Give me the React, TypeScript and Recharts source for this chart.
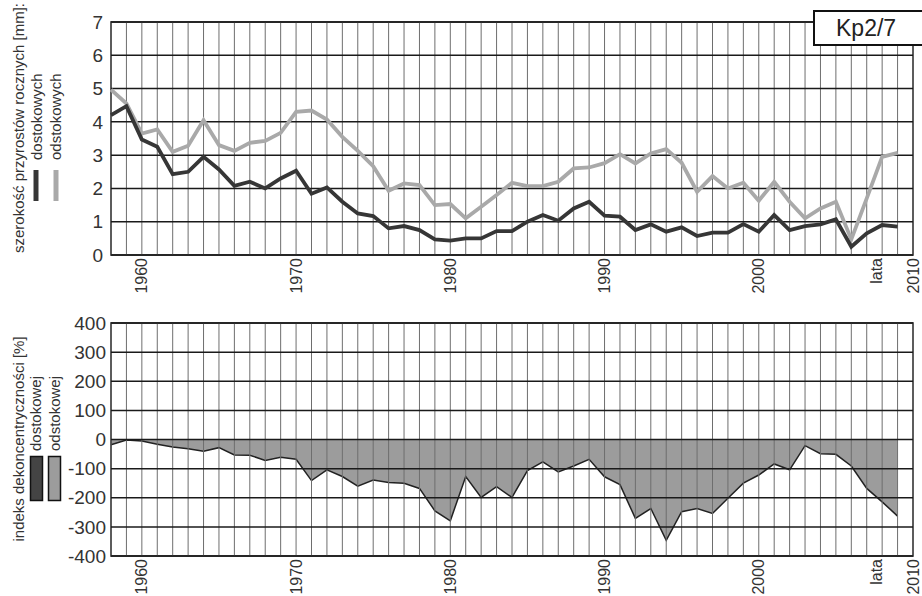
import React from 'react'
import {
  ComposedChart,
  Line,
  Area,
  XAxis,
  YAxis,
  CartesianGrid,
  ReferenceArea,
  ReferenceLine,
  Legend,
} from 'recharts'

const FONT = '"Liberation Sans", Arial, sans-serif'

// years of measurement
const years = [
  1958, 1959, 1960, 1961, 1962, 1963, 1964, 1965, 1966, 1967,
  1968, 1969, 1970, 1971, 1972, 1973, 1974, 1975, 1976, 1977,
  1978, 1979, 1980, 1981, 1982, 1983, 1984, 1985, 1986, 1987,
  1988, 1989, 1990, 1991, 1992, 1993, 1994, 1995, 1996, 1997,
  1998, 1999, 2000, 2001, 2002, 2003, 2004, 2005, 2006, 2007,
  2008, 2009,
]

// ring width [mm], upslope side
const dostokowe = [
  4.2, 4.47, 3.47, 3.25, 2.43, 2.5, 2.95, 2.57, 2.08, 2.2,
  2.0, 2.3, 2.53, 1.84, 2.03, 1.6, 1.25, 1.17, 0.8, 0.87,
  0.75, 0.47, 0.43, 0.5, 0.5, 0.72, 0.72, 1.0, 1.2, 1.03,
  1.4, 1.6, 1.18, 1.15, 0.75, 0.92, 0.7, 0.83, 0.57, 0.67,
  0.67, 0.93, 0.7, 1.2, 0.75, 0.87, 0.92, 1.07, 0.25, 0.65,
  0.9, 0.85,
]

// ring width [mm], downslope side
const odstokowe = [
  4.97, 4.55, 3.65, 3.77, 3.1, 3.28, 4.05, 3.3, 3.13, 3.37,
  3.43, 3.67, 4.3, 4.34, 4.07, 3.55, 3.13, 2.67, 1.93, 2.15,
  2.1, 1.5, 1.53, 1.1, 1.45, 1.8, 2.17, 2.07, 2.07, 2.2,
  2.6, 2.63, 2.76, 3.03, 2.75, 3.05, 3.18, 2.77, 1.9, 2.37,
  2.0, 2.17, 1.63, 2.2, 1.6, 1.1, 1.4, 1.6, 0.47, 1.7,
  2.95, 3.07,
]

// deconcentricity index [%]
const indeks = [
  -18, -2, -5, -16, -26, -32, -40, -28, -53, -54,
  -72, -61, -68, -141, -104, -127, -160, -139, -148, -150,
  -168, -245, -279, -127, -199, -162, -199, -107, -77, -111,
  -91, -68, -128, -155, -271, -237, -346, -248, -237, -254,
  -202, -150, -122, -84, -104, -21, -49, -51, -91, -168,
  -214, -263,
]

const xTicks = [1960, 1970, 1980, 1990, 2000, 2008, 2010]
const xTickLabels: Record<number, string> = { 2008: 'lata' }
const gridYears = [...years, 2010]
const topTicks = [0, 1, 2, 3, 4, 5, 6, 7]
const bottomTicks = [-400, -300, -200, -100, 0, 100, 200, 300, 400]

const DARK = '#363636'
const LIGHT = '#a9a9a9'
const AREA_FILL = '#9c9c9c'
const VGRID = '#6e6e6e'

const topData = years.map((year, i) => ({ year, dostokowych: dostokowe[i], odstokowych: odstokowe[i] }))
const bottomData = years.map((year, i) => ({ year, indeks: indeks[i] }))

const YearTick = ({ x, y, payload }: any) => {
  const label = xTickLabels[payload.value] ?? String(payload.value)
  const shift = label === 'lata' ? -6 : 0
  return (
    <text
      x={x + shift}
      y={y}
      transform={`rotate(-90, ${x + shift}, ${y})`}
      textAnchor="end"
      dy="0.35em"
      fontSize={16}
      fontFamily={FONT}
      fill="#333"
    >
      {label}
    </text>
  )
}

const TopLegend = () => (
  <svg width={80} height={260} style={{ overflow: 'visible' }}>
    <text x={19} y={128} transform="rotate(-90, 19, 128)" textAnchor="middle" dy="0.35em" fontSize={15} fontFamily={FONT} fill="#333">
      szerokość przyrostów rocznych [mm]:
    </text>
    <text x={37} y={160} transform="rotate(-90, 37, 160)" dy="0.35em" fontSize={15} fontFamily={FONT} fill="#333">dostokowych</text>
    <text x={56} y={160} transform="rotate(-90, 56, 160)" dy="0.35em" fontSize={15} fontFamily={FONT} fill="#333">odstokowych</text>
    <line x1={36} y1={170} x2={36} y2={201} stroke={DARK} strokeWidth={5} />
    <line x1={56} y1={170} x2={56} y2={201} stroke={LIGHT} strokeWidth={5} />
  </svg>
)

const BottomLegend = () => (
  <svg width={80} height={260} style={{ overflow: 'visible' }}>
    <text x={19} y={143} transform="rotate(-90, 19, 143)" textAnchor="middle" dy="0.35em" fontSize={15} fontFamily={FONT} fill="#333">
      indeks dekoncentryczności [%]
    </text>
    <text x={36} y={155} transform="rotate(-90, 36, 155)" dy="0.35em" fontSize={15} fontFamily={FONT} fill="#333">dostokowej</text>
    <text x={55} y={155} transform="rotate(-90, 55, 155)" dy="0.35em" fontSize={15} fontFamily={FONT} fill="#333">odstokowej</text>
    <rect x={30.5} y={160.5} width={12} height={44} fill="#444" stroke="#111" strokeWidth={1.5} />
    <rect x={48.5} y={160.5} width={12} height={44} fill={AREA_FILL} stroke="#111" strokeWidth={1.5} />
  </svg>
)

const legendWrap = { position: 'absolute' as const, left: 0, top: 0, width: 0, height: 0, overflow: 'visible' as const }

const yearLines = gridYears.map(y => (
  <ReferenceLine key={y} x={y} stroke={VGRID} strokeWidth={1} zIndex={150} />
))

export default function App() {
  return (
    <div style={{ position: 'absolute', left: 0, top: 0, width: 922, height: 596, background: '#fff', overflow: 'hidden', fontFamily: FONT }}>
      <div style={{ position: 'absolute', left: 0, top: 0 }}>
        <ComposedChart width={922} height={295} data={topData} margin={{ top: 22, right: 9, bottom: 0, left: 0 }}>
          <XAxis
            dataKey="year"
            type="number"
            domain={[1958, 2010]}
            ticks={xTicks}
            tick={<YearTick />}
            tickLine={false}
            axisLine={false}
            tickSize={0}
            tickMargin={3}
            height={40}
            interval={0}
          />
          <YAxis
            domain={[0, 7]}
            ticks={topTicks}
            tick={{ fill: '#333', fontSize: 19, fontFamily: FONT }}
            tickLine={false}
            axisLine={false}
            tickSize={0}
            tickMargin={8}
            width={111}
            interval={0}
          />
          {yearLines}
          <CartesianGrid vertical={false} stroke="#1a1a1a" strokeWidth={1.5} zIndex={160} />
          <Line type="linear" dataKey="odstokowych" stroke={LIGHT} strokeWidth={3.8} dot={false} activeDot={false} isAnimationActive={false} zIndex={400} />
          <Line type="linear" dataKey="dostokowych" stroke={DARK} strokeWidth={3.8} dot={false} activeDot={false} isAnimationActive={false} zIndex={410} />
          <ReferenceArea x1={1958} x2={2010} y1={0} y2={7} fill="none" stroke="#111" strokeWidth={1.5} />
          <Legend content={<TopLegend />} wrapperStyle={legendWrap} />
        </ComposedChart>
      </div>

      <div style={{ position: 'absolute', left: 0, top: 296 }}>
        <ComposedChart width={922} height={300} data={bottomData} margin={{ top: 27, right: 9, bottom: 0, left: 0 }}>
          <XAxis
            dataKey="year"
            type="number"
            domain={[1958, 2010]}
            ticks={xTicks}
            tick={<YearTick />}
            tickLine={false}
            axisLine={false}
            tickSize={0}
            tickMargin={3}
            height={40}
            interval={0}
          />
          <YAxis
            domain={[-400, 400]}
            ticks={bottomTicks}
            tick={{ fill: '#333', fontSize: 19, fontFamily: FONT }}
            tickLine={false}
            axisLine={false}
            tickSize={0}
            tickMargin={5}
            width={111}
            interval={0}
          />
          <Area
            type="linear"
            dataKey="indeks"
            baseValue={0}
            stroke="#222"
            strokeWidth={1.5}
            fill={AREA_FILL}
            fillOpacity={1}
            dot={false}
            activeDot={false}
            isAnimationActive={false}
          />
          {yearLines}
          <CartesianGrid vertical={false} stroke="#1a1a1a" strokeWidth={1.5} zIndex={160} />
          <ReferenceArea x1={1958} x2={2010} y1={-400} y2={400} fill="none" stroke="#111" strokeWidth={1.5} />
          <Legend content={<BottomLegend />} wrapperStyle={legendWrap} />
        </ComposedChart>
      </div>

      <div
        style={{
          position: 'absolute',
          left: 813,
          top: 10,
          width: 120,
          height: 32,
          border: '2px solid #111',
          background: '#fff',
          fontSize: 23,
          lineHeight: '32px',
          color: '#222',
          paddingLeft: 21,
          boxSizing: 'content-box',
        }}
      >
        Kp2/7
      </div>
    </div>
  )
}
